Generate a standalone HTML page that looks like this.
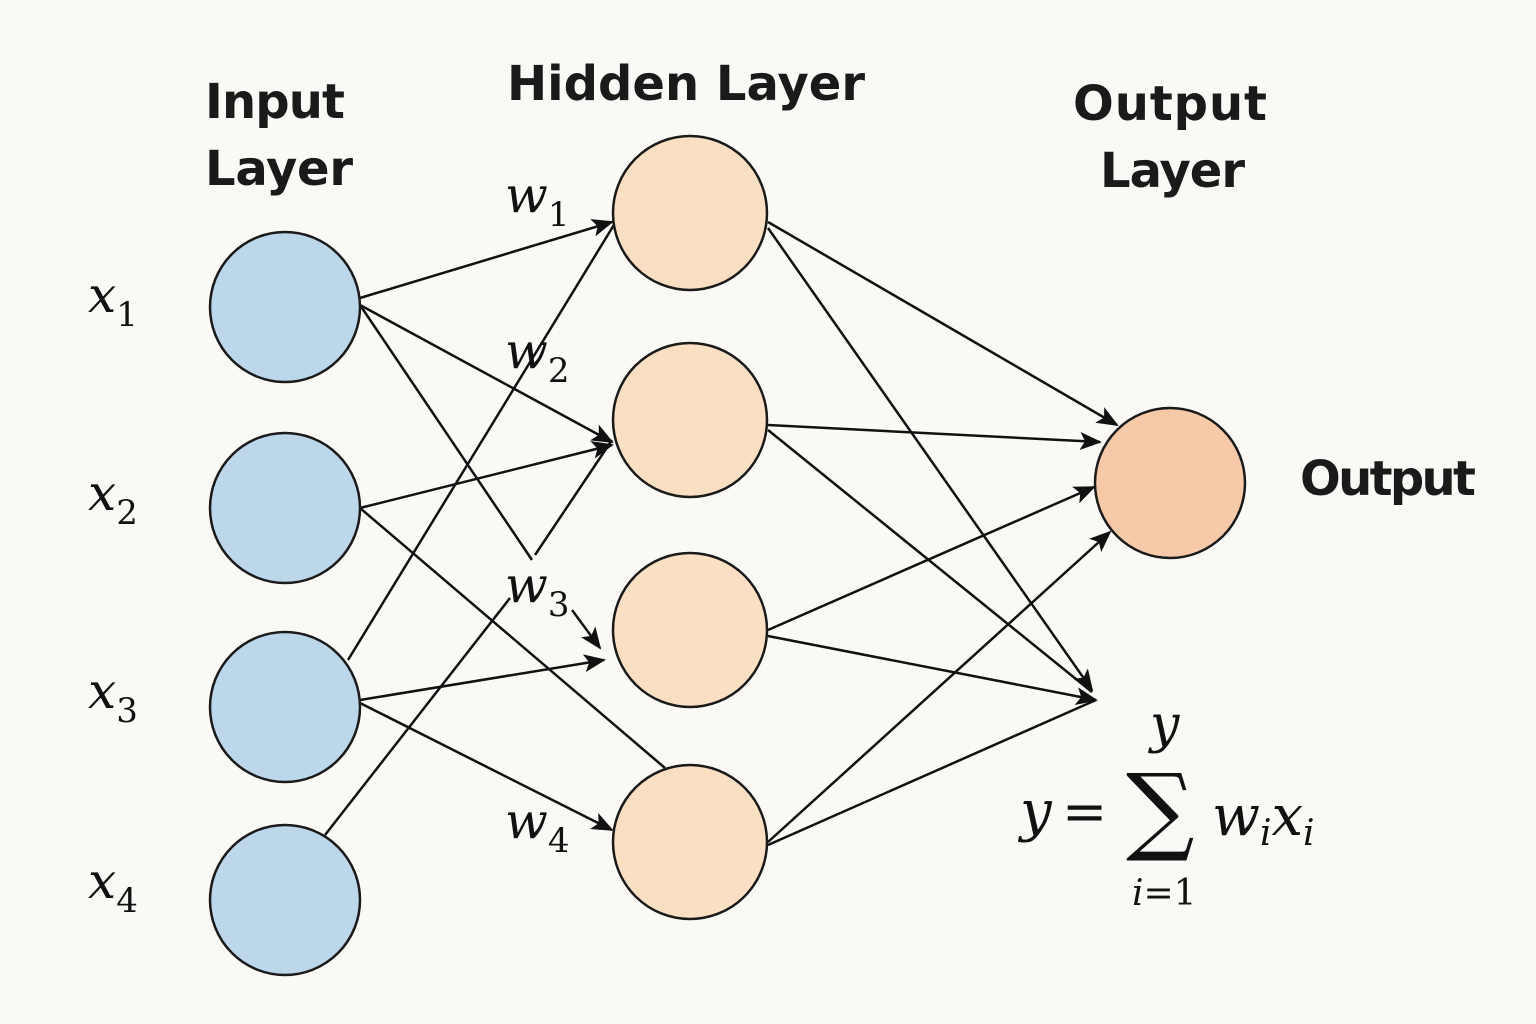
<!DOCTYPE html>
<html><head><meta charset="utf-8"><style>
body{margin:0;background:#faf9f6;}
svg{display:block}
.t{font-family:"DejaVu Sans","Liberation Sans",sans-serif;font-weight:bold;font-size:48px;fill:#1a1a1a}
.m{font-family:"DejaVu Serif","Liberation Serif",serif;font-style:italic;fill:#111}
</style></head><body>
<svg width="1536" height="1024" viewBox="0 0 1536 1024">
<defs>
<marker id="b" markerWidth="22" markerHeight="18" refX="20" refY="9" orient="auto" markerUnits="userSpaceOnUse" viewBox="0 0 22 18"><path d="M0,0 L22,9 L0,18 L5,9 z" fill="#111"/></marker></defs>
<g stroke="#111" stroke-width="2.5" fill="none">
<line x1="360" y1="298" x2="612" y2="222" marker-end="url(#b)"/>
<line x1="360" y1="305" x2="612" y2="442" marker-end="url(#b)"/>
<line x1="360" y1="305" x2="532" y2="560"/>
<line x1="360" y1="508" x2="612" y2="445" marker-end="url(#b)"/>
<line x1="360" y1="508" x2="665" y2="768"/>
<line x1="348" y1="660" x2="620" y2="215"/>
<line x1="360" y1="700" x2="604" y2="660" marker-end="url(#b)"/>
<line x1="360" y1="703" x2="612" y2="830" marker-end="url(#b)"/>
<line x1="325" y1="835" x2="510" y2="598"/>
<line x1="535" y1="555" x2="612" y2="440"/>
<line x1="572" y1="610" x2="600" y2="648" marker-end="url(#b)"/>
<line x1="768" y1="222" x2="1117" y2="425" marker-end="url(#b)"/>
<line x1="768" y1="228" x2="1092" y2="690" marker-end="url(#b)"/>
<line x1="768" y1="425" x2="1100" y2="442" marker-end="url(#b)"/>
<line x1="768" y1="430" x2="1092" y2="692"/>
<line x1="768" y1="630" x2="1094" y2="487" marker-end="url(#b)"/>
<line x1="768" y1="636" x2="1096" y2="700" marker-end="url(#b)"/>
<line x1="768" y1="842" x2="1110" y2="532" marker-end="url(#b)"/>
<line x1="768" y1="845" x2="1096" y2="700"/>
</g>
<g stroke="#1a1a1a" stroke-width="2.5">
<circle cx="285" cy="307" r="75" fill="#bcd6ea"/>
<circle cx="285" cy="508" r="75" fill="#bcd6ea"/>
<circle cx="285" cy="707" r="75" fill="#bcd6ea"/>
<circle cx="285" cy="900" r="75" fill="#bcd6ea"/>
<circle cx="690" cy="213" r="77" fill="#fbdfc3"/>
<circle cx="690" cy="420" r="77" fill="#fbdfc3"/>
<circle cx="690" cy="630" r="77" fill="#fbdfc3"/>
<circle cx="690" cy="842" r="77" fill="#fbdfc3"/>
<circle cx="1170" cy="483" r="75" fill="#f6c9a8"/>
</g>
<text class="t" x="205" y="118" textLength="140">Input</text>
<text class="t" x="205" y="185" textLength="148">Layer</text>
<text class="t" x="507" y="100" textLength="358">Hidden Layer</text>
<text class="t" x="1073" y="120" textLength="194">Output</text>
<text class="t" x="1100" y="187" textLength="145">Layer</text>
<text class="t" x="1300" y="495" textLength="176">Output</text>
<g class="m" font-size="50">
<text x="88" y="312">x<tspan font-size="34" font-style="normal" dy="14">1</tspan></text>
<text x="88" y="510">x<tspan font-size="34" font-style="normal" dy="14">2</tspan></text>
<text x="88" y="708">x<tspan font-size="34" font-style="normal" dy="14">3</tspan></text>
<text x="88" y="898">x<tspan font-size="34" font-style="normal" dy="14">4</tspan></text>
<text x="505" y="212">w<tspan font-size="34" font-style="normal" dy="14">1</tspan></text>
<text x="505" y="368">w<tspan font-size="34" font-style="normal" dy="14">2</tspan></text>
<text x="505" y="602">w<tspan font-size="34" font-style="normal" dy="14">3</tspan></text>
<text x="505" y="838">w<tspan font-size="34" font-style="normal" dy="14">4</tspan></text>
<text x="1150" y="742" font-size="52">y</text>
<text x="1020" y="830" font-size="56">y</text>
<text x="1062" y="830" font-size="54" font-style="normal">=</text>
<text x="1126" y="842" font-size="96" font-style="normal">∑</text>
<text x="1212" y="835" font-size="56">w<tspan font-size="36" dy="10">i</tspan><tspan dy="-10">x</tspan><tspan font-size="36" dy="10">i</tspan></text>
<text x="1132" y="905" font-size="36">i<tspan font-style="normal">=1</tspan></text>
</g>
</svg>
</body></html>
